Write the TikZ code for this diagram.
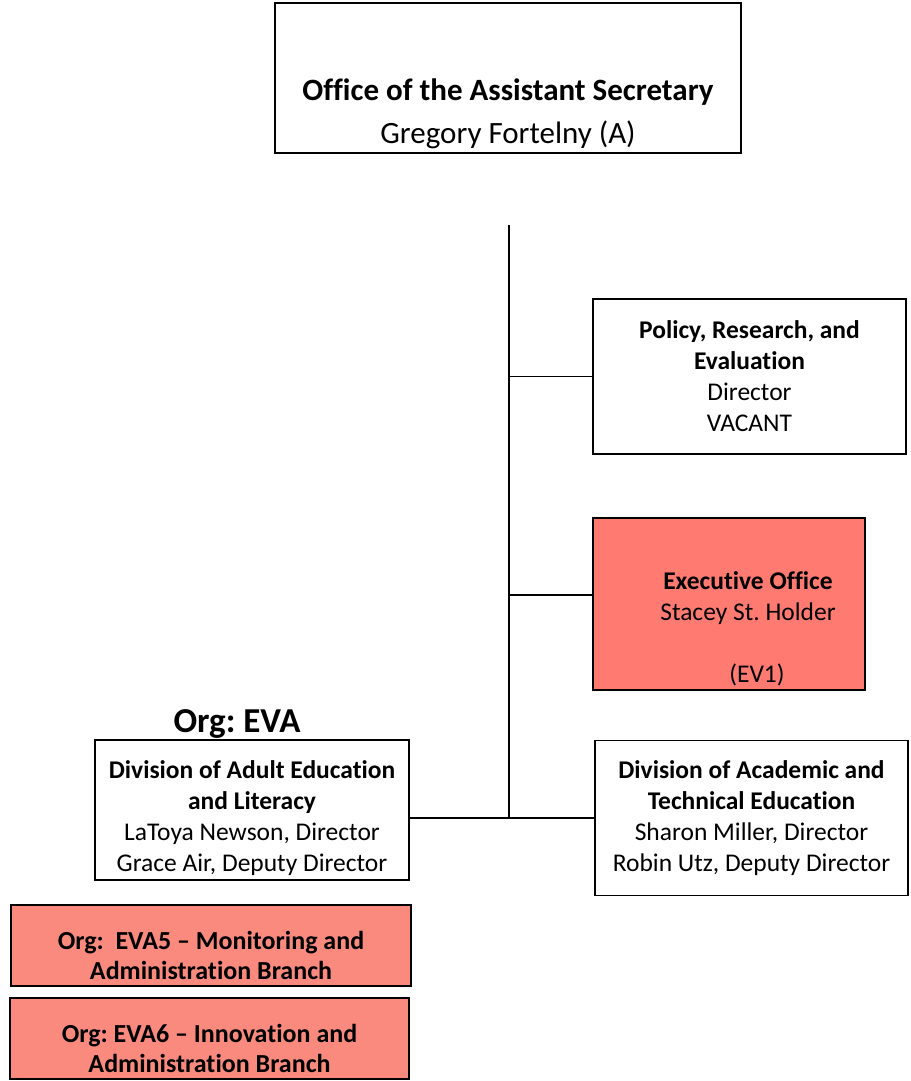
\documentclass[tikz,border=0pt]{standalone}
\usepackage{fontspec}
\setmainfont{Carlito}[Ligatures=NoCommon]
\usetikzlibrary{positioning}
\frenchspacing
\definecolor{execred}{HTML}{FF7B72}
\definecolor{orgred}{HTML}{FA8A7E}
\tikzset{
  box/.style={draw=black,line width=1.8pt,inner sep=0pt},
  txt/.style={align=center,inner sep=0pt,font=\fontsize{25.5}{31}\selectfont},
  link/.style={line width=1.8pt},
}
\begin{document}
\begin{tikzpicture}[x=1pt,y=-1pt]
  \useasboundingbox (0,0) rectangle (910,1081);

  % top office
  \node[box,minimum width=466,minimum height=150] (oas) at (508,78) {};
  \node[txt,font=\fontsize{31}{43}\selectfont] (oasT) at (508,114)
    {\textbf{Office of the Assistant Secretary}\\Gregory Fortelny (A)};

  % staff offices
  \node[box,minimum width=313,minimum height=155,txt] (pre) at (749.5,376.5)
    {\textbf{Policy, Research, and}\\\textbf{Evaluation}\\Director\\VACANT};

  \node[box,fill=execred,minimum width=272,minimum height=172] (exo) at (729,604) {};
  \node[txt] (exoT) at (748,629)
    {\textbf{Executive Office}\\Stacey St. Holder\\[31pt]\hspace*{18pt}(EV1)};

  % divisions
  \node[font=\fontsize{35}{40}\selectfont\bfseries,inner sep=0pt] (org) at (237,724) {Org: EVA};
  \node[box,minimum width=314,minimum height=140] (dae) at (252,810) {};
  \node[txt] (daeT) at (252,818)
    {\textbf{Division of Adult Education}\\\textbf{and Literacy}\\LaToya Newson, Director\\Grace Air, Deputy Director};
  \node[box,minimum width=313,minimum height=155,txt] (ate) at (751.5,818)
    {\textbf{Division of Academic and}\\\textbf{Technical Education}\\Sharon Miller, Director\\Robin Utz, Deputy Director};

  % branches
  \node[box,fill=orgred,minimum width=400,minimum height=81] (eva5) at (211,945.5) {};
  \node[txt,font=\fontsize{26}{30}\selectfont\bfseries] (eva5T) at (211,955)
    {Org:\ \ EVA5 -- Monitoring and\\Administration Branch};
  \node[box,fill=orgred,minimum width=399,minimum height=81] (eva6) at (209.5,1038.5) {};
  \node[txt,font=\fontsize{26}{30}\selectfont\bfseries] (eva6T) at (209.5,1048)
    {Org: EVA6 -- Innovation and\\Administration Branch};

  % lines
  \coordinate (trunk) at (509,225);
  \coordinate (exoIn) at (593,595);
  \draw[link] (trunk) -- (trunk |- ate.west);
  \draw[link] (trunk |- pre.west) -- (pre.west);
  \draw[link] (trunk |- exoIn) -- (exoIn);
  \draw[link] (dae.east |- ate.west) -- (ate.west);
\end{tikzpicture}
\end{document}
